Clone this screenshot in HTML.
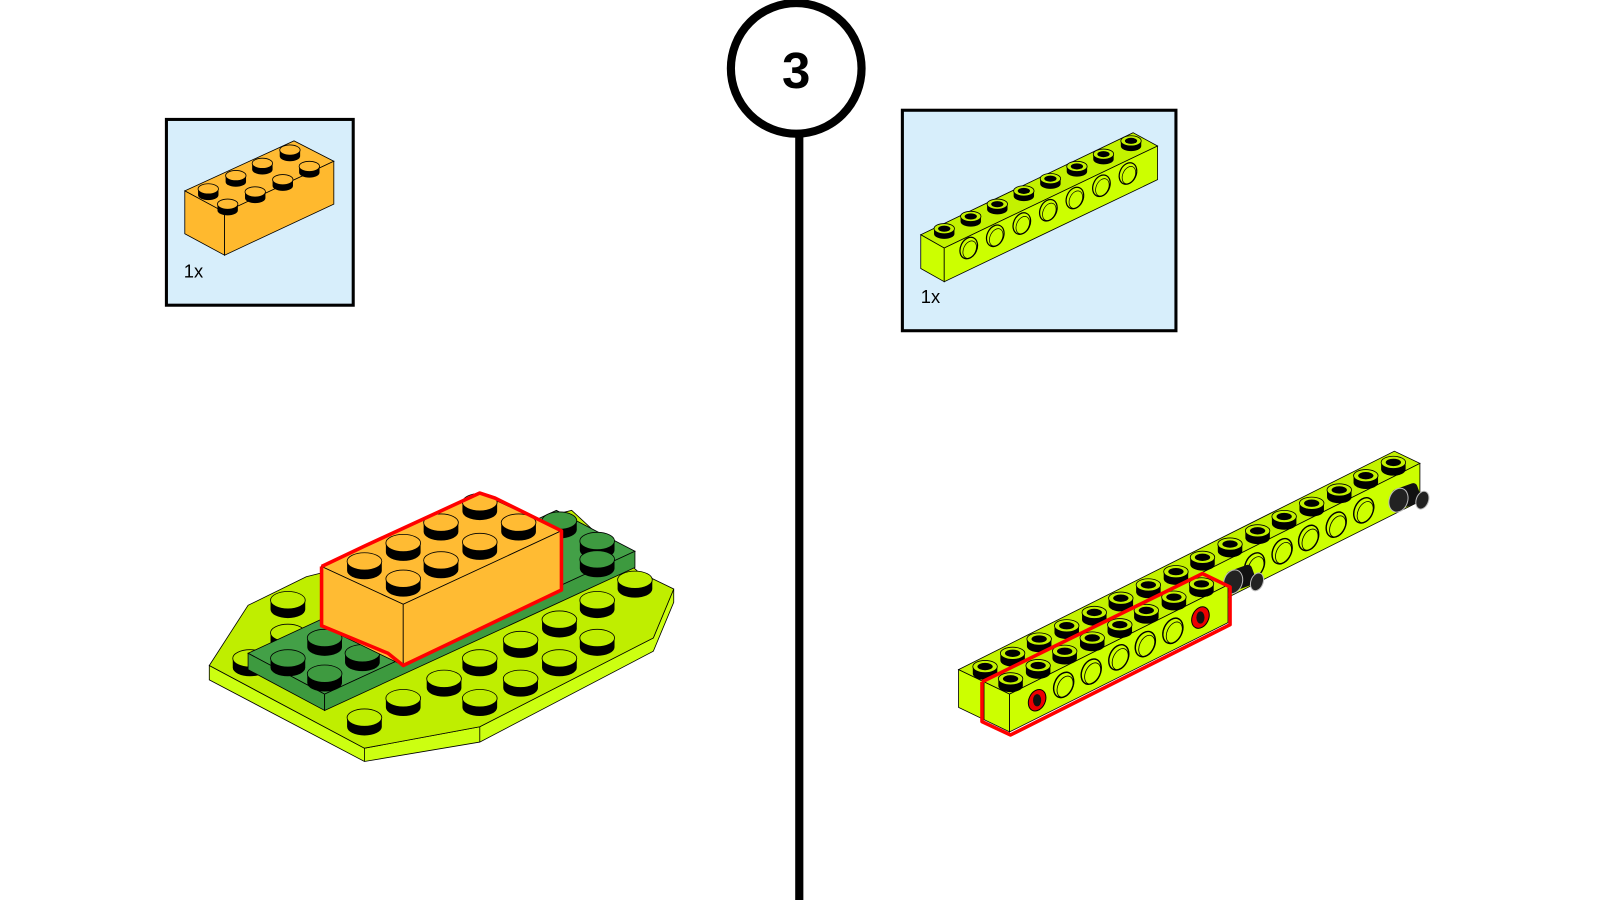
<!DOCTYPE html>
<html><head><meta charset="utf-8"><style>
html,body{margin:0;padding:0;background:#fff;width:1600px;height:900px;overflow:hidden}
svg{display:block}
</style></head><body>
<svg width="1600" height="900" viewBox="0 0 1567.4 881.7" xmlns="http://www.w3.org/2000/svg">
<defs>
<g id="s"><path d="M-17 0 v9 a17 8.5 0 0 0 34 0 v-9z" fill="#000"/><ellipse rx="17" ry="8.5" stroke="#000" stroke-width="0.8"/></g>
<g id="ss"><path d="M-10 0 v6 a10 5 0 0 0 20 0 v-6z" fill="#000"/><ellipse rx="10" ry="5" stroke="#000" stroke-width="0.8"/></g>
<g id="t"><path d="M-12 0 v7 a12 6 0 0 0 24 0 v-7z" fill="#000"/><ellipse rx="12" ry="6" stroke="#000" stroke-width="0.8"/><ellipse rx="7.5" ry="3.6" fill="#000"/></g>
<g id="ts"><path d="M-10 0 v5 a10 5 0 0 0 20 0 v-5z" fill="#000"/><ellipse rx="10" ry="5" stroke="#000" stroke-width="0.8"/><ellipse rx="6" ry="3" fill="#000"/></g>
<g id="h"><ellipse rx="9" ry="13" fill="none" stroke="#000" stroke-width="1.4" transform="rotate(25)"/><ellipse cx="2" cy="1" rx="7" ry="11" fill="none" stroke="#000" stroke-width="0.8" transform="rotate(25)"/></g>
<g id="hs"><ellipse rx="8" ry="11" fill="none" stroke="#000" stroke-width="1.2" transform="rotate(25)"/><ellipse cx="1.5" cy="1" rx="6" ry="9" fill="none" stroke="#000" stroke-width="0.7" transform="rotate(25)"/></g>
<g id="pin"><rect x="-4" y="-11" width="26" height="20" rx="4" fill="#111" transform="rotate(-20)"/><ellipse rx="9" ry="12" fill="#222" stroke="#bbb" stroke-width="1" transform="rotate(20)"/><ellipse cx="22" cy="-8" rx="6" ry="9" fill="#222" stroke="#bbb" stroke-width="1" transform="rotate(20)"/></g>
</defs>

<circle cx="780" cy="67" r="64" fill="#fff" stroke="#000" stroke-width="8"/>
<text x="780" y="86" text-anchor="middle" font-family="Liberation Sans, sans-serif" font-weight="bold" font-size="50">3</text>
<line x1="783" y1="131" x2="783" y2="900" stroke="#000" stroke-width="8"/>

<rect x="163" y="117" width="183" height="182" fill="#d7eefb" stroke="#000" stroke-width="3"/>
<polygon points="181,187 288,138 327,158 220,208" fill="#ffbb33" stroke="#000" stroke-width="0.8"/>
<polygon points="181,187 220,208 220,250 181,229" fill="#ffb92e" stroke="#000" stroke-width="0.8"/>
<polygon points="220,208 327,158 327,200 220,250" fill="#ffb92e" stroke="#000" stroke-width="0.8"/>
<g fill="#ffbb33">
<use href="#ss" x="284" y="147"/><use href="#ss" x="257" y="160"/><use href="#ss" x="231" y="172"/><use href="#ss" x="204" y="185"/>
<use href="#ss" x="303" y="163"/><use href="#ss" x="277" y="176"/><use href="#ss" x="250" y="188"/><use href="#ss" x="223" y="200"/>
</g>
<text x="180" y="272" font-family="Liberation Sans, sans-serif" font-size="18">1x</text>

<rect x="884" y="108" width="268" height="216" fill="#d7eefb" stroke="#000" stroke-width="3"/>
<polygon points="902,230 1110,130 1134,143 925,243" fill="#c3f200" stroke="#000" stroke-width="0.8"/>
<polygon points="902,230 925,243 925,276 902,263" fill="#ccff00" stroke="#000" stroke-width="0.8"/>
<polygon points="925,243 1134,143 1134,176 925,276" fill="#ccff00" stroke="#000" stroke-width="0.8"/>
<g fill="#c3f200">
<use href="#ts" x="925" y="224"/><use href="#ts" x="951" y="212"/><use href="#ts" x="977" y="200"/><use href="#ts" x="1003" y="187"/><use href="#ts" x="1029" y="175"/><use href="#ts" x="1055" y="163"/><use href="#ts" x="1081" y="151"/><use href="#ts" x="1108" y="138"/>
</g>
<g><use href="#hs" x="949" y="243"/><use href="#hs" x="975" y="231"/><use href="#hs" x="1001" y="219"/><use href="#hs" x="1027" y="206"/><use href="#hs" x="1053" y="194"/><use href="#hs" x="1079" y="182"/><use href="#hs" x="1105" y="170"/></g>
<text x="902" y="297" font-family="Liberation Sans, sans-serif" font-size="18">1x</text>

<polygon points="205,652 357,733 470,712 640,625 660,577 660,590 640,638 470,727 357,746 205,666" fill="#ccff11" stroke="#000" stroke-width="0.8"/>
<polygon points="205,652 243,593 300,565 560,500 625,560 660,577 640,625 470,712 357,733" fill="#bfee00" stroke="#000" stroke-width="0.8"/>
<line x1="357" y1="733" x2="357" y2="746" stroke="#000" stroke-width="0.8"/>
<line x1="470" y1="712" x2="470" y2="727" stroke="#000" stroke-width="0.8"/>
<g fill="#bfee00">
<use href="#s" x="282" y="588"/><use href="#s" x="245" y="645"/><use href="#s" x="282" y="620"/>
<use href="#s" x="622" y="568"/><use href="#s" x="585" y="588"/><use href="#s" x="548" y="607"/><use href="#s" x="510" y="627"/><use href="#s" x="470" y="645"/><use href="#s" x="435" y="665"/><use href="#s" x="395" y="684"/><use href="#s" x="357" y="703"/>
<use href="#s" x="585" y="625"/><use href="#s" x="548" y="645"/><use href="#s" x="510" y="665"/><use href="#s" x="470" y="684"/>
</g>
<polygon points="243,640 545,500 622,540 318,680" fill="#43a047" stroke="#000" stroke-width="0.8"/>
<polygon points="243,640 318,680 318,696 243,656" fill="#3d9a3f" stroke="#000" stroke-width="0.8"/>
<polygon points="318,680 622,540 622,556 318,696" fill="#3d9a3f" stroke="#000" stroke-width="0.8"/>
<g fill="#3e9a40">
<use href="#s" x="548" y="510"/><use href="#s" x="585" y="530"/><use href="#s" x="585" y="548"/>
<use href="#s" x="318" y="625"/><use href="#s" x="282" y="645"/><use href="#s" x="318" y="660"/><use href="#s" x="355" y="640"/>
</g>
<polygon points="315,555 470,483 550,520 395,592" fill="#ffbb33" stroke="#000" stroke-width="0.8"/>
<polygon points="315,555 395,592 395,652 315,613" fill="#ffbb33" stroke="#000" stroke-width="0.8"/>
<polygon points="395,592 550,520 550,578 395,652" fill="#ffbb33" stroke="#000" stroke-width="0.8"/>
<g fill="#ffbb33">
<use href="#s" x="470" y="492"/><use href="#s" x="432" y="512"/><use href="#s" x="395" y="532"/><use href="#s" x="357" y="550"/>
<use href="#s" x="508" y="512"/><use href="#s" x="470" y="531"/><use href="#s" x="432" y="549"/><use href="#s" x="395" y="567"/>
</g>
<polyline points="315,555 357,535 470,483 485,488 550,520 550,578 395,652 380,640 315,613 315,555" fill="none" stroke="#f00" stroke-width="3.5" stroke-linejoin="round"/>

<polygon points="939,656 1366,442 1391,454 964,668" fill="#c3f200" stroke="#000" stroke-width="0.8"/>
<polygon points="939,656 964,668 964,705 939,693" fill="#ccff00" stroke="#000" stroke-width="0.8"/>
<polygon points="964,668 1391,454 1391,491 964,705" fill="#ccff00" stroke="#000" stroke-width="0.8"/>
<g>
<use href="#h" x="1229" y="554"/><use href="#h" x="1256" y="540"/><use href="#h" x="1282" y="527"/><use href="#h" x="1309" y="514"/><use href="#h" x="1336" y="500"/>
</g>
<g fill="#c3f200">
<use href="#t" x="965" y="653"/><use href="#t" x="992" y="640"/><use href="#t" x="1018" y="626"/><use href="#t" x="1045" y="613"/><use href="#t" x="1072" y="600"/><use href="#t" x="1098" y="586"/><use href="#t" x="1125" y="573"/><use href="#t" x="1152" y="560"/><use href="#t" x="1178" y="546"/><use href="#t" x="1205" y="533"/><use href="#t" x="1232" y="520"/><use href="#t" x="1258" y="506"/><use href="#t" x="1285" y="493"/><use href="#t" x="1312" y="480"/><use href="#t" x="1338" y="466"/><use href="#t" x="1365" y="453"/>
</g>
<use href="#pin" x="1370" y="490"/>
<use href="#pin" x="1208" y="570"/>
<polygon points="964,668 1178,561 1203,573 989,680" fill="#c3f200" stroke="#000" stroke-width="0.8"/>
<polygon points="964,668 989,680 989,717 964,705" fill="#ccff00" stroke="#000" stroke-width="0.8"/>
<polygon points="989,680 1203,573 1203,610 989,717" fill="#ccff00" stroke="#000" stroke-width="0.8"/>
<g>
<use href="#h" x="1042" y="671"/><use href="#h" x="1069" y="658"/><use href="#h" x="1096" y="644"/><use href="#h" x="1122" y="631"/><use href="#h" x="1149" y="618"/>
</g>
<ellipse cx="1016" cy="686" rx="8" ry="11" fill="#e00" stroke="#000" transform="rotate(25 1016 686)"/>
<ellipse cx="1016" cy="686" rx="4" ry="6" fill="#111"/>
<ellipse cx="1176" cy="605" rx="8" ry="11" fill="#e00" stroke="#000" transform="rotate(25 1176 605)"/>
<ellipse cx="1176" cy="605" rx="4" ry="6" fill="#111"/>
<g fill="#c3f200">
<use href="#t" x="990" y="665"/><use href="#t" x="1017" y="652"/><use href="#t" x="1043" y="638"/><use href="#t" x="1070" y="625"/><use href="#t" x="1097" y="612"/><use href="#t" x="1123" y="598"/><use href="#t" x="1150" y="585"/><use href="#t" x="1177" y="572"/>
</g>
<polyline points="962,668 1178,562 1205,575 1205,612 990,720 962,707 962,668" fill="none" stroke="#f00" stroke-width="3.5" stroke-linejoin="round"/>
</svg>
</body></html>
